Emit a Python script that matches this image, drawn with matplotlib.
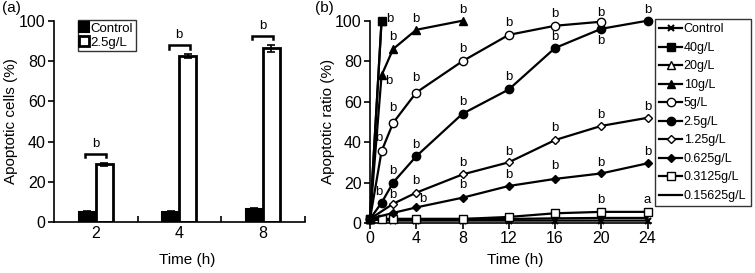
import matplotlib
matplotlib.use("Agg")
import matplotlib.pyplot as plt
from matplotlib.lines import Line2D
import numpy as np

plt.rcParams['font.family'] = ['Liberation Sans', 'DejaVu Sans']

# ---------------- Panel (a) data ----------------
a_times = ['2', '4', '8']
a_control = [5.0, 5.0, 6.5]
a_control_err = [0.6, 0.4, 0.5]
a_treat = [28.8, 82.5, 86.3]
a_treat_err = [0.8, 1.0, 1.8]
a_sig = ['b', 'b', 'b']

# ---------------- Panel (b) data ----------------
b_series = ['Control', '40g/L', '20g/L', '10g/L', '5g/L', '2.5g/L',
            '1.25g/L', '0.625g/L', '0.3125g/L', '0.15625g/L']
t_control = [0, 1, 2, 4, 8, 12, 16, 20, 24]
v_control = [1.5, 1.5, 1.2, 1.2, 1.2, 1.2, 1.2, 1.2, 1.2]
t_40 = [0, 1]
v_40 = [2, 100]
t_20 = [0, 1]
v_20 = [2, 100]
t_10 = [0, 1, 2, 4, 8]
v_10 = [2, 73, 86, 95.5, 100]
t_5 = [0, 1, 2, 4, 8, 12, 16, 20]
v_5 = [2, 35.5, 49.5, 64.5, 80, 93, 97.5, 99.5]
t_2_5 = [0, 1, 2, 4, 8, 12, 16, 20, 24]
v_2_5 = [2, 10, 20, 33, 54, 66, 86.5, 96, 100]
t_1_25 = [0, 2, 4, 8, 12, 16, 20, 24]
v_1_25 = [2, 9.5, 15, 24, 30, 41, 48, 52]
t_0_625 = [0, 2, 4, 8, 12, 16, 20, 24]
v_0_625 = [2, 5, 7.7, 12.5, 18.3, 21.8, 24.5, 29.5]
t_0_3125 = [0, 1, 2, 4, 8, 12, 16, 20, 24]
v_0_3125 = [2, 2, 2, 2, 2, 3, 4.8, 5.5, 5.5]
t_0_15625 = [0, 1, 2, 4, 8, 12, 16, 20, 24]
v_0_15625 = [2, 2, 2, 2, 2, 2, 2.3, 2.5, 2.5]

# significance labels: (series, time, label, dx, dy)
b_labels = [
    ('40g/L', 1, 'b', 0.75, 1),
    ('10g/L', 1, 'b', 0.65, -3),
    ('10g/L', 2, 'b', 0, 6), ('10g/L', 4, 'b', 0, 5.5), ('10g/L', 8, 'b', 0, 5.5),
    ('5g/L', 1, 'b', -0.25, 6.5), ('5g/L', 2, 'b', 0, 7.5), ('5g/L', 4, 'b', 0, 7),
    ('5g/L', 8, 'b', 0, 6), ('5g/L', 12, 'b', 0, 6), ('5g/L', 16, 'b', 0, 6),
    ('5g/L', 20, 'b', 0, 4.5),
    ('2.5g/L', 1, 'b', -0.2, 5.5), ('2.5g/L', 2, 'b', 0, 5.5), ('2.5g/L', 4, 'b', 0, 5.5),
    ('2.5g/L', 8, 'b', 0, 6), ('2.5g/L', 12, 'b', 0, 6), ('2.5g/L', 16, 'b', 0, 5.5),
    ('2.5g/L', 20, 'b', 0, -6), ('2.5g/L', 24, 'b', 0, 5.5),
    ('1.25g/L', 2, 'b', 0, 4.5), ('1.25g/L', 4, 'b', 0, 6), ('1.25g/L', 8, 'b', 0, 5.6),
    ('1.25g/L', 12, 'b', 0, 5.2), ('1.25g/L', 16, 'b', 0, 6), ('1.25g/L', 20, 'b', 0, 5.2),
    ('1.25g/L', 24, 'b', 0, 5.5),
    ('0.625g/L', 4, 'b', 0.6, 4.3), ('0.625g/L', 8, 'b', 0, 6.3), ('0.625g/L', 12, 'b', 0, 5.4),
    ('0.625g/L', 16, 'b', 0, 6.5), ('0.625g/L', 20, 'b', 0, 5.2), ('0.625g/L', 24, 'b', 0, 5.5),
    ('0.3125g/L', 20, 'b', 0, 6), ('0.3125g/L', 24, 'a', 0, 6),
]

series_data = {
    'Control': (t_control, v_control),
    '40g/L': (t_40, v_40),
    '20g/L': (t_20, v_20),
    '10g/L': (t_10, v_10),
    '5g/L': (t_5, v_5),
    '2.5g/L': (t_2_5, v_2_5),
    '1.25g/L': (t_1_25, v_1_25),
    '0.625g/L': (t_0_625, v_0_625),
    '0.3125g/L': (t_0_3125, v_0_3125),
    '0.15625g/L': (t_0_15625, v_0_15625),
}
styles = {
    'Control': dict(marker='x', ms=4, mfc='black', mew=1.5),
    '40g/L': dict(marker='s', ms=6, mfc='black'),
    '20g/L': dict(marker='^', ms=6, mfc='white'),
    '10g/L': dict(marker='^', ms=6, mfc='black'),
    '5g/L': dict(marker='o', ms=6, mfc='white'),
    '2.5g/L': dict(marker='o', ms=6, mfc='black'),
    '1.25g/L': dict(marker='D', ms=4.5, mfc='white'),
    '0.625g/L': dict(marker='D', ms=4.5, mfc='black'),
    '0.3125g/L': dict(marker='s', ms=6, mfc='white'),
    '0.15625g/L': dict(marker='None'),
}

TICK_FS = 11.5
LABEL_FS = 11
SIG_FS = 9.5

fig = plt.figure(figsize=(7.55, 2.73), dpi=100)
W, H = 755, 273

# ---------------- Panel (a) ----------------
a_l, a_r, a_t, a_b = 54, 304.5, 20.7, 222.3
ax1 = fig.add_axes([a_l / W, 1 - a_b / H, (a_r - a_l) / W, (a_b - a_t) / H])
x = np.arange(len(a_times))
bw = 0.205
ax1.bar(x - bw / 2, a_control, bw, color='black', edgecolor='black', linewidth=1.5,
        label='Control', zorder=2)
ax1.bar(x + bw / 2, a_treat, bw, color='white', edgecolor='black', linewidth=2,
        label='2.5g/L', zorder=2)
ax1.errorbar(x - bw / 2, a_control, yerr=a_control_err, fmt='none', ecolor='black',
             elinewidth=1.2, capsize=3, capthick=1.2, zorder=3)
ax1.errorbar(x + bw / 2, a_treat, yerr=a_treat_err, fmt='none', ecolor='black',
             elinewidth=1.2, capsize=3, capthick=1.2, zorder=3)
for i, (v, e, s) in enumerate(zip(a_treat, a_treat_err, a_sig)):
    yb = v + e + 4.5
    xl, xr = x[i] - 0.125, x[i] + 0.125
    ax1.plot([xl, xl, xr, xr], [yb - 1.8, yb, yb, yb - 1.8], color='black', lw=1.8,
             solid_joinstyle='miter')
    ax1.text(x[i], yb + 4.8, s, ha='center', va='center', fontsize=SIG_FS)

ax1.set_xlim(-0.5, len(a_times) - 0.5)
ax1.set_ylim(0, 100)
ax1.set_xticks(x)
ax1.set_xticklabels(a_times, fontsize=TICK_FS)
ax1.tick_params(axis='x', which='major', length=0, pad=3)
ax1.set_xticks(np.arange(len(a_times)) + 0.5, minor=True)
ax1.tick_params(axis='x', which='minor', direction='in', length=4, width=1.2)
ax1.set_yticks(np.arange(0, 101, 20))
ax1.tick_params(axis='y', direction='out', length=4, width=1.2, labelsize=TICK_FS, pad=2)
ax1.spines['top'].set_visible(False)
ax1.spines['right'].set_visible(False)
for sp in ('left', 'bottom'):
    ax1.spines[sp].set_linewidth(1.2)
ax1.set_xlabel('Time (h)', fontsize=LABEL_FS)
ax1.set_ylabel('Apoptotic cells (%)', fontsize=LABEL_FS)
ax1.xaxis.set_label_coords((187.5 - a_l) / (a_r - a_l), -(253 - a_b) / (a_b - a_t))
ax1.yaxis.set_label_coords(-(a_l - 18) / (a_r - a_l), 0.5)
h1 = [Line2D([], [], ls='None', marker='s', ms=7, mfc='black', mec='black', mew=1.5),
      Line2D([], [], ls='None', marker='s', ms=6.5, mfc='white', mec='black', mew=2)]
leg1 = ax1.legend(h1, ['Control', '2.5g/L'], loc='upper left', bbox_to_anchor=(0.094, 1.005),
                  fontsize=9.5, frameon=True, fancybox=False, edgecolor='black',
                  handlelength=0.6, handletextpad=0.2, borderpad=0.2, labelspacing=0.15,
                  borderaxespad=0)
leg1.get_frame().set_linewidth(1.0)
fig.text(2 / W, 1 - 8 / H, '(a)', fontsize=LABEL_FS, va='center', ha='left')

# ---------------- Panel (b) ----------------
b_l, b_r, b_t, b_b = 370, 651, 20.7, 223
ax2 = fig.add_axes([b_l / W, 1 - b_b / H, (b_r - b_l) / W, (b_b - b_t) / H])
order = ['0.15625g/L', 'Control', '0.3125g/L', '0.625g/L', '1.25g/L', '2.5g/L',
         '5g/L', '10g/L', '20g/L', '40g/L']
handles = {}
for name in order:
    t, v = series_data[name]
    st = styles[name]
    ln, = ax2.plot(t, v, color='black', lw=1.6, mec='black',
                   clip_on=False, zorder=3, **st)
    handles[name] = ln
for name, tt, lab, dx, dy in b_labels:
    t, v = series_data[name]
    yv = v[t.index(tt)]
    ax2.text(tt + dx, yv + dy, lab, ha='center', va='center', fontsize=SIG_FS, clip_on=False)

ax2.set_xlim(0, 24.3)
ax2.set_ylim(0, 100)
ax2.set_xticks(np.arange(0, 25, 4))
ax2.set_yticks(np.arange(0, 101, 20))
ax2.tick_params(axis='both', direction='out', length=4, width=1.2, labelsize=TICK_FS, pad=2)
ax2.spines['top'].set_visible(False)
ax2.spines['right'].set_visible(False)
for sp in ('left', 'bottom'):
    ax2.spines[sp].set_linewidth(1.2)
ax2.set_xlabel('Time (h)', fontsize=LABEL_FS)
ax2.set_ylabel('Apoptotic ratio (%)', fontsize=LABEL_FS)
ax2.xaxis.set_label_coords((515.5 - b_l) / (b_r - b_l), -(253 - b_b) / (b_b - b_t))
ax2.yaxis.set_label_coords(-(b_l - 335) / (b_r - b_l), 0.5)
leg2 = fig.legend([handles[n] for n in b_series], b_series, loc='upper left',
                  bbox_to_anchor=(655 / W, 1 - 19 / H), bbox_transform=fig.transFigure,
                  fontsize=9, frameon=True, fancybox=False, edgecolor='black',
                  handlelength=1.8, handletextpad=0.15, borderpad=0.35, labelspacing=0.52,
                  borderaxespad=0)
leg2.get_frame().set_linewidth(1.0)
fig.text(315 / W, 1 - 8 / H, '(b)', fontsize=LABEL_FS, va='center', ha='left')

fig.savefig('out.png', dpi=100)
